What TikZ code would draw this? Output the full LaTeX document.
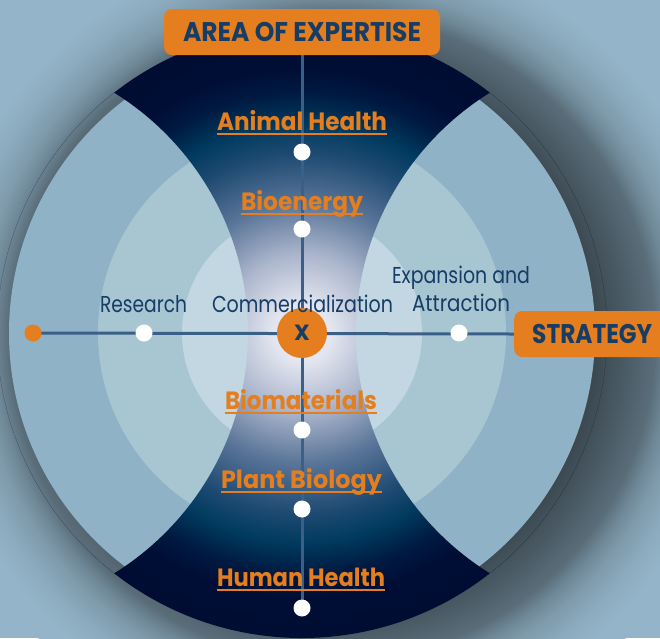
\documentclass[tikz,border=0pt]{standalone}
\usepackage{fontspec}
\setmainfont{Poppins}
\usepackage{graphicx}
\usetikzlibrary{calc}
\definecolor{bgc}{HTML}{94B5C9}
\definecolor{s1}{HTML}{3B4850}
\definecolor{s2}{HTML}{4A5A64}
\definecolor{s3}{HTML}{596D79}
\definecolor{s4}{HTML}{6F8897}
\definecolor{s5}{HTML}{7E9AAB}
\definecolor{s6}{HTML}{8BAABD}
\definecolor{ringA}{HTML}{8FB2C6}
\definecolor{ringB}{HTML}{A7C6D2}
\definecolor{ringC}{HTML}{C2D7E2}
\definecolor{h0}{HTML}{F0F1F8}
\definecolor{h1}{HTML}{E2E5EF}
\definecolor{h2}{HTML}{A9B4CB}
\definecolor{h3}{HTML}{5A7598}
\definecolor{h4}{HTML}{1E4A72}
\definecolor{h5}{HTML}{003A5E}
\definecolor{h6}{HTML}{001A42}
\definecolor{h7}{HTML}{000E35}
\definecolor{h8}{HTML}{000C32}
\definecolor{orng}{HTML}{E47E1E}
\definecolor{navy}{HTML}{163D66}
\definecolor{axisc}{HTML}{3B6088}
\pgfdeclareradialshading{shadowsh}{\pgfpoint{0bp}{0bp}}{color(0bp)=(s1); color(15.65bp)=(s1); color(17.44bp)=(s2); color(19.23bp)=(s3); color(20.12bp)=(s4); color(21.01bp)=(s5); color(22.32bp)=(s6); color(23.81bp)=(bgc); color(25bp)=(bgc); color(50bp)=(bgc)}
\pgfdeclareradialshading{hgsh}{\pgfpoint{0bp}{0bp}}{color(0bp)=(h0); color(2.46bp)=(h1); color(6.56bp)=(h2); color(10.66bp)=(h3); color(14.75bp)=(h4); color(17.2bp)=(h5); color(19.7bp)=(h6); color(21.7bp)=(h7); color(25bp)=(h8); color(50bp)=(h8)}
\pgfdeclarelayer{back}
\pgfdeclarelayer{lines}
\pgfsetlayers{back,lines,main}
\newcommand\fitw[3]{\resizebox{#1}{\height}{\fontsize{#2}{#2}\selectfont #3}}
\tikzset{
  wdot/.style={circle, fill=white, minimum size=17pt, inner sep=0pt},
  odot/.style={circle, fill=orng, minimum size=17pt, inner sep=0pt},
  xcirc/.style={circle, fill=orng, minimum size=50pt, inner sep=0pt, text=navy},
  lbox/.style={fill=orng, rounded corners=8pt, text=navy, inner sep=0pt},
  axis/.style={draw=axisc, line width=3pt},
  olab/.style={anchor=base, inner sep=0pt, text=orng, font=\bfseries},
  dlab/.style={anchor=base, inner sep=0pt, text=navy},
  ul/.style={draw=orng, line width=2pt}
}
\begin{document}
\begin{tikzpicture}[x=1pt,y=-1pt]
\useasboundingbox (0,0) rectangle (660,638);
\begin{pgfonlayer}{back}
\clip (0,0) rectangle (660,638);
\fill[bgc] (0,0) rectangle (660,638);
\shade[shading=shadowsh] (332,338) circle (420pt);
\fill[ringA] (302,333) circle (293pt);
\fill[ringB] (302,333) circle (204pt);
\fill[ringC] (302,333) circle (120pt);
\begin{scope}[even odd rule]
\clip (302,333) circle (305pt);
\clip (302,333) circle (305pt) (-34.6,333) circle (282.6pt) (638.6,333) circle (282.6pt);
\shade[shading=hgsh] (302,333) circle (305pt);
\end{scope}
\end{pgfonlayer}

% boxes
\node[lbox, minimum width=276pt, minimum height=46pt] (aoe) at (302,32) {\fitw{238pt}{27}{\bfseries AREA OF EXPERTISE}};
\node[lbox, anchor=west, text width=130pt, inner xsep=18pt, minimum height=46pt, align=left] (strat) at (514,334) {\fitw{120pt}{27}{\bfseries STRATEGY}};

% dots
\node[wdot] (dAH) at (302,152) {};
\node[wdot] (dBio) at (302,229) {};
\node[wdot] (dBm) at (302,430) {};
\node[wdot] (dPB) at (302,509) {};
\node[wdot] (dHH) at (302,608) {};
\node[wdot] (dRes) at (144,333) {};
\node[wdot] (dExp) at (459,333) {};
\node[odot] (dOr) at (33,333) {};
\node[xcirc] (X) at (302,333) {\fontsize{22}{22}\selectfont\bfseries X};

\begin{pgfonlayer}{lines}
\draw[axis] (aoe.south) -- (dHH.center);
\draw[axis] (dOr.center) -- (strat.west);
\end{pgfonlayer}

% orange labels
\node[olab] (lAH) at (302,130) {\fitw{170pt}{25}{Animal Health}};
\node[olab] (lBio) at (302,210) {\fitw{122pt}{25}{Bioenergy}};
\node[olab] (lBm) at (301,409) {\fitw{152pt}{25}{Biomaterials}};
\node[olab] (lPB) at (301.5,488) {\fitw{161pt}{25}{Plant Biology}};
\node[olab] (lHH) at (301,586) {\fitw{168pt}{25}{Human Health}};
\foreach \n in {lAH,lBio,lBm,lPB,lHH}{
  \draw[ul] ($(\n.base west)+(0,4)$) -- ($(\n.base east)+(0,4)$);
}

% dark labels
\node[dlab] (lRes) at (143.5,312) {\fitw{87pt}{23}{Research}};
\node[dlab] (lCom) at (302.5,312) {\fitw{181pt}{23}{Commercialization}};
\node[dlab] (lExp1) at (461,283) {\fitw{138pt}{23}{Expansion and}};
\node[dlab] (lExp2) at (461,311) {\fitw{98pt}{23}{Attraction}};
\end{tikzpicture}
\end{document}
